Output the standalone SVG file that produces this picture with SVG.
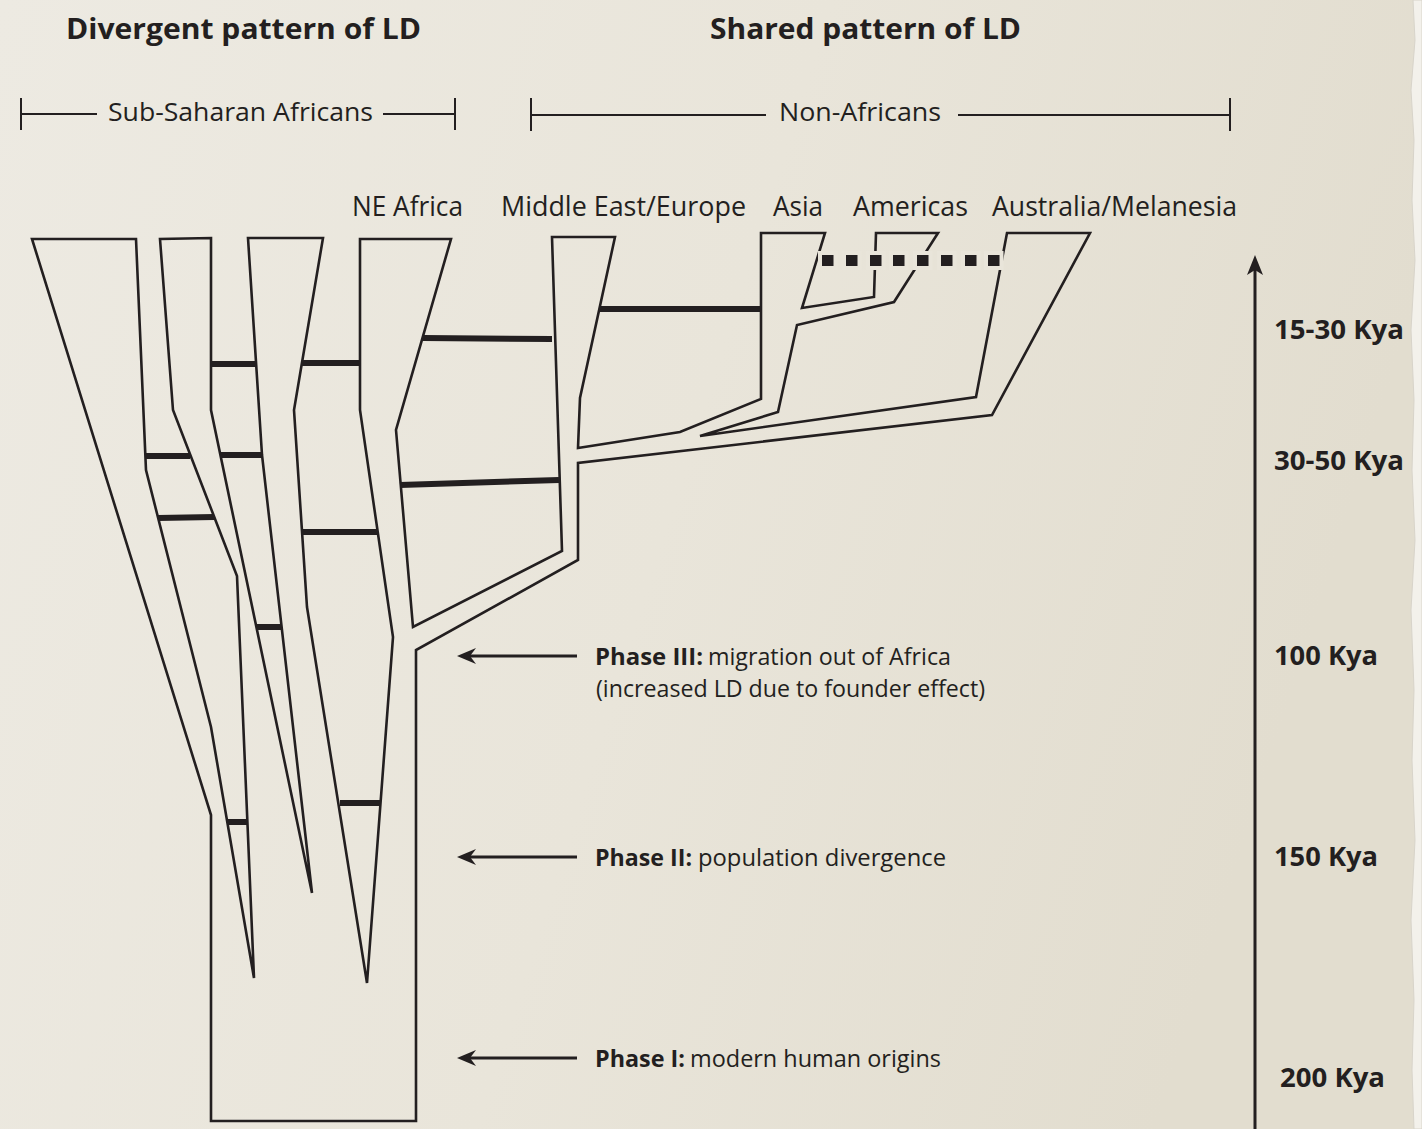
<svg xmlns="http://www.w3.org/2000/svg" width="1422" height="1129" viewBox="0 0 1422 1129">
<defs>
<linearGradient id="bg" x1="0" y1="0" x2="1" y2="0.25">
<stop offset="0" stop-color="#EDEAE2"/>
<stop offset="0.55" stop-color="#E9E5DA"/>
<stop offset="1" stop-color="#E2DDCF"/>
</linearGradient>
</defs>
<style>
.ol{fill:none;stroke:#231F20;stroke-width:2.6;stroke-linejoin:miter;stroke-miterlimit:3}
.bar{stroke:#231F20;stroke-width:6;fill:none}
.br{stroke:#231F20;stroke-width:2;fill:none}
.dot{fill:#231F20;stroke:#E9E5DA;stroke-width:8;paint-order:stroke}
.t{font-family:"Open Sans","Noto Sans","Liberation Sans",sans-serif;fill:#231F20}
.b{font-weight:700}
.ah{fill:#231F20}
.ax{stroke:#231F20;stroke-width:3;fill:none}
</style>
<rect id="background" x="0" y="0" width="1422" height="1129" fill="url(#bg)"/>
<path id="torn-edge" d="M1422,0 L1413,0 L1415,40 L1411,90 L1414,140 L1412,200 L1415,260 L1411,330 L1414,400 L1412,470 L1415,540 L1411,610 L1414,690 L1412,760 L1415,840 L1411,920 L1414,1000 L1412,1070 L1414,1129 L1422,1129 Z" fill="#F3F1EB" stroke="#D8D4CA" stroke-width="1"/>

<g id="headings">
<text class="t b" x="66" y="39" font-size="29" textLength="355" lengthAdjust="spacingAndGlyphs">Divergent pattern of LD</text>
<text class="t b" x="710" y="39" font-size="29" textLength="311" lengthAdjust="spacingAndGlyphs">Shared pattern of LD</text>
</g>

<g id="bracket-subsaharan">
<path class="br" d="M21,98 V130 M21,114 H97 M383,114 H455 M455,98 V130"/>
<text class="t" x="108" y="121" font-size="26" textLength="265" lengthAdjust="spacingAndGlyphs">Sub-Saharan Africans</text>
</g>
<g id="bracket-nonafricans">
<path class="br" d="M531,98 V131 M531,115 H766 M958,115 H1230 M1230,98 V131"/>
<text class="t" x="779" y="121" font-size="26" textLength="162" lengthAdjust="spacingAndGlyphs">Non-Africans</text>
</g>

<g id="population-labels">
<text class="t" x="352" y="216" font-size="27" textLength="111" lengthAdjust="spacingAndGlyphs">NE Africa</text>
<text class="t" x="501" y="216" font-size="27" textLength="245" lengthAdjust="spacingAndGlyphs">Middle East/Europe</text>
<text class="t" x="773" y="216" font-size="27" textLength="50" lengthAdjust="spacingAndGlyphs">Asia</text>
<text class="t" x="853" y="216" font-size="27" textLength="115" lengthAdjust="spacingAndGlyphs">Americas</text>
<text class="t" x="992" y="216" font-size="27" textLength="245" lengthAdjust="spacingAndGlyphs">Australia/Melanesia</text>
</g>

<g id="tree">
<path class="ol" d="M32,239 L136,239 L146,470 L211,727 L254,978 L237,576 L173,410 L160,239 L211,238 L211,410 L312,893 L262,455 L248,238 L323,238 L294,410 L307,607 L367,983 L393,637 L360,410 L360,239 L451,239 L396,430 L413,627 L562,551 L552,237 L615,237 L580,398 L578,448 L680,432 L761,399 L761,233 L825,233 L802,308 L874,297 L876,233 L938,233 L894,302 L797,325 L778,412 L700,436 L976,397 L1007,233 L1090,233 L992,415 L578,463 L578,560 L416,650 L416,1121 L211,1121 L211,815 Z"/>
</g>

<g id="connectors">
<path class="bar" d="M211,364 H256"/>
<path class="bar" d="M302,363 H360"/>
<path class="bar" d="M423,338 L552,339"/>
<path class="bar" d="M146,456 H190"/>
<path class="bar" d="M220,455 H262"/>
<path class="bar" d="M158,518 L214,517"/>
<path class="bar" d="M302,532 H378"/>
<path class="bar" d="M400,485 L559,480"/>
<path class="bar" d="M600,309 H761"/>
<path class="bar" d="M257,627 H282"/>
<path class="bar" d="M340,803 H380"/>
<path class="bar" d="M227,822 H248"/>
<g id="dotted-link">
<rect class="dot" x="822" y="255" width="11.5" height="11"/>
<rect class="dot" x="846" y="255" width="11.5" height="11"/>
<rect class="dot" x="870" y="255" width="11.5" height="11"/>
<rect class="dot" x="893" y="255" width="11.5" height="11"/>
<rect class="dot" x="917" y="255" width="11.5" height="11"/>
<rect class="dot" x="941" y="255" width="11.5" height="11"/>
<rect class="dot" x="965" y="255" width="11.5" height="11"/>
<rect class="dot" x="988" y="255" width="11.5" height="11"/>
</g>
</g>

<g id="phase-3">
<path class="ax" d="M577,656 H468"/>
<path class="ah" d="M457,656 L476,648 L470,656 L476,664 Z"/>
<text class="t" y="665" font-size="24"><tspan class="b" x="595" textLength="108" lengthAdjust="spacingAndGlyphs">Phase III:</tspan><tspan x="708" textLength="243" lengthAdjust="spacingAndGlyphs">migration out of Africa</tspan></text>
<text class="t" x="596" y="697" font-size="24" textLength="389" lengthAdjust="spacingAndGlyphs">(increased LD due to founder effect)</text>
</g>
<g id="phase-2">
<path class="ax" d="M577,857 H468"/>
<path class="ah" d="M457,857 L476,849 L470,857 L476,865 Z"/>
<text class="t" y="866" font-size="24"><tspan class="b" x="595" textLength="97" lengthAdjust="spacingAndGlyphs">Phase II:</tspan><tspan x="698" textLength="248" lengthAdjust="spacingAndGlyphs">population divergence</tspan></text>
</g>
<g id="phase-1">
<path class="ax" d="M577,1058 H468"/>
<path class="ah" d="M457,1058 L476,1050 L470,1058 L476,1066 Z"/>
<text class="t" y="1067" font-size="24"><tspan class="b" x="595" textLength="90" lengthAdjust="spacingAndGlyphs">Phase I:</tspan><tspan x="690" textLength="251" lengthAdjust="spacingAndGlyphs">modern human origins</tspan></text>
</g>

<g id="time-axis">
<path class="ax" d="M1255,1129 V268"/>
<path class="ah" d="M1255,255 L1263,275 L1255,270 L1247,275 Z"/>
<text class="t b" x="1274" y="339" font-size="26" textLength="130" lengthAdjust="spacingAndGlyphs">15-30 Kya</text>
<text class="t b" x="1274" y="470" font-size="26" textLength="130" lengthAdjust="spacingAndGlyphs">30-50 Kya</text>
<text class="t b" x="1274" y="665" font-size="26" textLength="104" lengthAdjust="spacingAndGlyphs">100 Kya</text>
<text class="t b" x="1274" y="866" font-size="26" textLength="104" lengthAdjust="spacingAndGlyphs">150 Kya</text>
<text class="t b" x="1280" y="1087" font-size="26" textLength="105" lengthAdjust="spacingAndGlyphs">200 Kya</text>
</g>
</svg>
